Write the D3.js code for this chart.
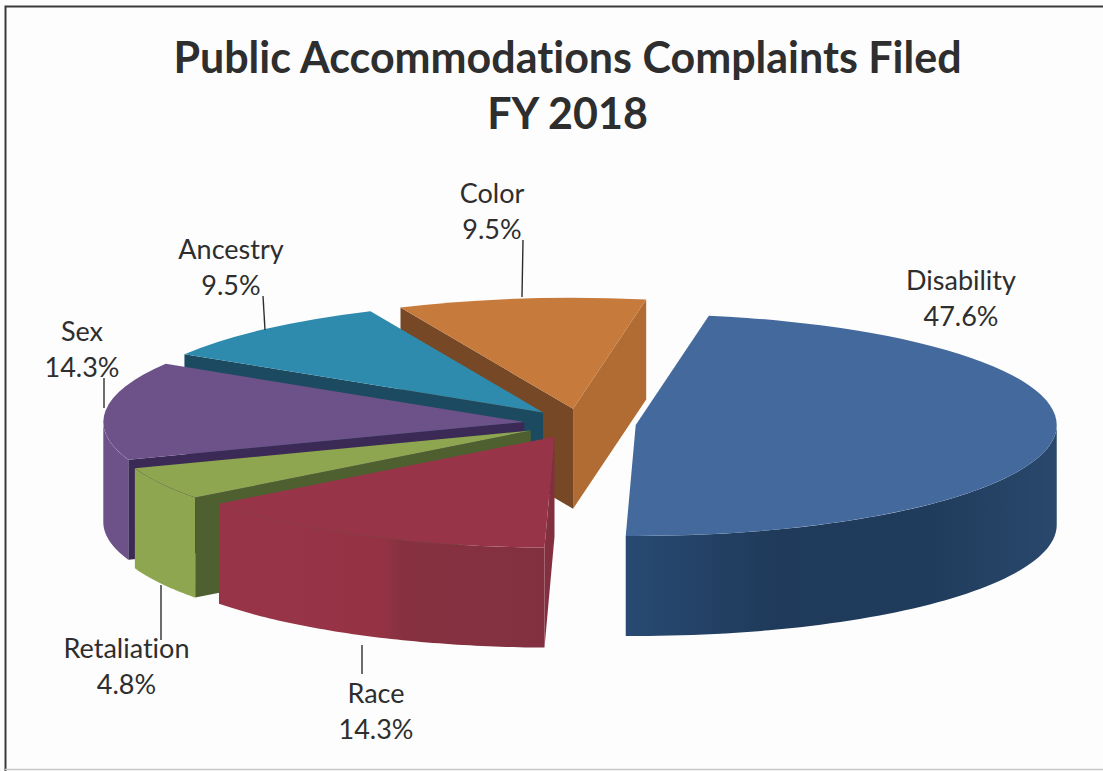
<!DOCTYPE html>
<html>
<head>
<meta charset="utf-8">
<script src="https://cdnjs.cloudflare.com/ajax/libs/d3/7.8.5/d3.min.js"></script>
<style>
html,body{margin:0;padding:0;background:#fdfdfd;overflow:hidden}
svg{display:block}
text{font-family:Lato,"Open Sans",sans-serif;fill:#2e2e2e;font-variant-ligatures:none}
</style>
</head>
<body>
<script>
// ---- data ----
const categories = ["Disability", "Race", "Retaliation", "Sex", "Ancestry", "Color"];
const shares = [47.6, 14.3, 4.8, 14.3, 9.5, 9.5];
const titleLines = ["Public Accommodations Complaints Filed", "FY 2018"];

// ---- styles ----
const topColors  = ["#44699d", "#983448", "#8fa650", "#6d5289", "#2f8bad", "#c67a3c"];
const rimColors  = ["url(#rim0)", "url(#rim1)", "#8fa650", "#6d5289", "#1f5a72", "#b06c32"];
const startFace  = ["#223f60", "#823040", "#4e5f30", "#3b2a56", "#1c4a60", "#774826"];
const endFace    = ["#223f60", "#823040", "#4e5f30", "#3b2a56", "#1c4a60", "#b06c32"];

// ---- layout ----
const W = 1103, H = 771;
const center = {x: 580, y: 423.5};
const radiusX = 421, radiusY = 111, depth = 100, explode = 56;
const firstSliceAngle = 10 * Math.PI / 180;
const labelPos = [[961, 280.5], [376, 693.5], [126.5, 648.5], [82, 331.5], [231, 249.5], [492, 193.5]];
const leaders  = [null, [[362, 645], [362, 674]], [[161, 585], [161, 640]], [[104, 378], [104, 408]], [[263, 296], [265, 330]], [[523, 240], [522, 297]]];

const svg = d3.select("body").append("svg").attr("width", W).attr("height", H);
svg.append("rect").attr("width", W).attr("height", H).attr("fill", "#fdfdfd");

// frame
svg.append("path").attr("d", d3.line()([[5.5, H], [5.5, 6.5], [W, 6.5]]))
  .attr("fill", "none").attr("stroke", "#3a3a3a").attr("stroke-width", 2);
svg.append("line").attr("x1", 5).attr("x2", W).attr("y1", 769.5).attr("y2", 769.5)
  .attr("stroke", "#c8c8c8").attr("stroke-width", 1.5);

// title
svg.selectAll("text.title").data(titleLines).join("text")
  .attr("class", "title")
  .attr("x", 567.5).attr("y", (d, i) => 72.5 + i * 56.5)
  .attr("text-anchor", "middle")
  .attr("font-size", 43).attr("font-weight", 700)
  .text(d => d);

// pie geometry
const pie = d3.pie().sort(null).value(d => d)
  .startAngle(firstSliceAngle).endAngle(firstSliceAngle + 2 * Math.PI);
const arcs = pie(shares).map((a, i) => {
  const mid = (a.startAngle + a.endAngle) / 2;
  return Object.assign(a, {
    i,
    ox: center.x + explode * Math.sin(mid),
    oy: center.y - explode * Math.cos(mid) * radiusY / radiusX
  });
});
const topArc = d3.arc().innerRadius(0).outerRadius(radiusX);
const poly = d3.line().curve(d3.curveLinearClosed);
const rimPoint = (a, t, dz) => [a.ox + radiusX * Math.sin(t), a.oy - radiusY * Math.cos(t) + dz];

// side shading
const defs = svg.append("defs");
const addGradient = (id, stops) => {
  const g = defs.append("linearGradient").attr("id", id);
  stops.forEach(([o, c]) => g.append("stop").attr("offset", o).attr("stop-color", c));
};
addGradient("rim0", [[0, "#284a72"], [0.35, "#1f3a5a"], [0.7, "#203c5c"], [1, "#29486c"]]);
addGradient("rim1", [[0, "#983448"], [0.5, "#953345"], [0.56, "#873140"], [1, "#823040"]]);

// painter's order: last slice at the back, first slice last
const slices = svg.selectAll("g.slice").data(arcs.slice().reverse()).join("g")
  .attr("class", "slice");

slices.each(function (a) {
  const g = d3.select(this);
  // outer wall: only the part facing the viewer
  const from = Math.max(a.startAngle, Math.PI / 2), to = Math.min(a.endAngle, 3 * Math.PI / 2);
  const from2 = Math.max(a.startAngle, Math.PI / 2 + 2 * Math.PI), to2 = Math.min(a.endAngle, 3 * Math.PI / 2 + 2 * Math.PI);
  [[from, to], [from2, to2]].forEach(([s, e]) => {
    if (e <= s) return;
    const ts = d3.range(0, 61).map(k => s + (e - s) * k / 60);
    const pts = ts.map(t => rimPoint(a, t, 0)).concat(ts.slice().reverse().map(t => rimPoint(a, t, depth)));
    g.append("path").attr("d", poly(pts)).attr("fill", rimColors[a.i]);
  });
  // cut faces toward the viewer
  const apex = [a.ox, a.oy], apexLow = [a.ox, a.oy + depth];
  if (Math.sin(a.startAngle) < 0) {
    g.append("path").attr("d", poly([apex, rimPoint(a, a.startAngle, 0), rimPoint(a, a.startAngle, depth), apexLow]))
      .attr("fill", startFace[a.i]);
  }
  if (Math.sin(a.endAngle) > 0) {
    g.append("path").attr("d", poly([apex, rimPoint(a, a.endAngle, 0), rimPoint(a, a.endAngle, depth), apexLow]))
      .attr("fill", endFace[a.i]);
  }
  // top surface
  g.append("path")
    .attr("transform", `translate(${a.ox},${a.oy}) scale(1,${radiusY / radiusX})`)
    .attr("d", topArc(a))
    .attr("fill", topColors[a.i]);
});

// leader lines
svg.selectAll("path.leader").data(leaders.filter(Boolean)).join("path")
  .attr("class", "leader").attr("d", d3.line())
  .attr("fill", "none").attr("stroke", "#2e2e2e").attr("stroke-width", 1.4);

// labels
const labels = svg.selectAll("g.label").data(categories).join("g")
  .attr("class", "label")
  .attr("transform", (d, i) => `translate(${labelPos[i][0]},${labelPos[i][1]})`);
labels.append("text").attr("text-anchor", "middle").attr("dy", "0.35em")
  .attr("font-size", 27).text(d => d);
labels.append("text").attr("text-anchor", "middle").attr("y", 36).attr("dy", "0.35em")
  .attr("font-size", 27).text((d, i) => d3.format(".1f")(shares[i]) + "%");
</script>
</body>
</html>
